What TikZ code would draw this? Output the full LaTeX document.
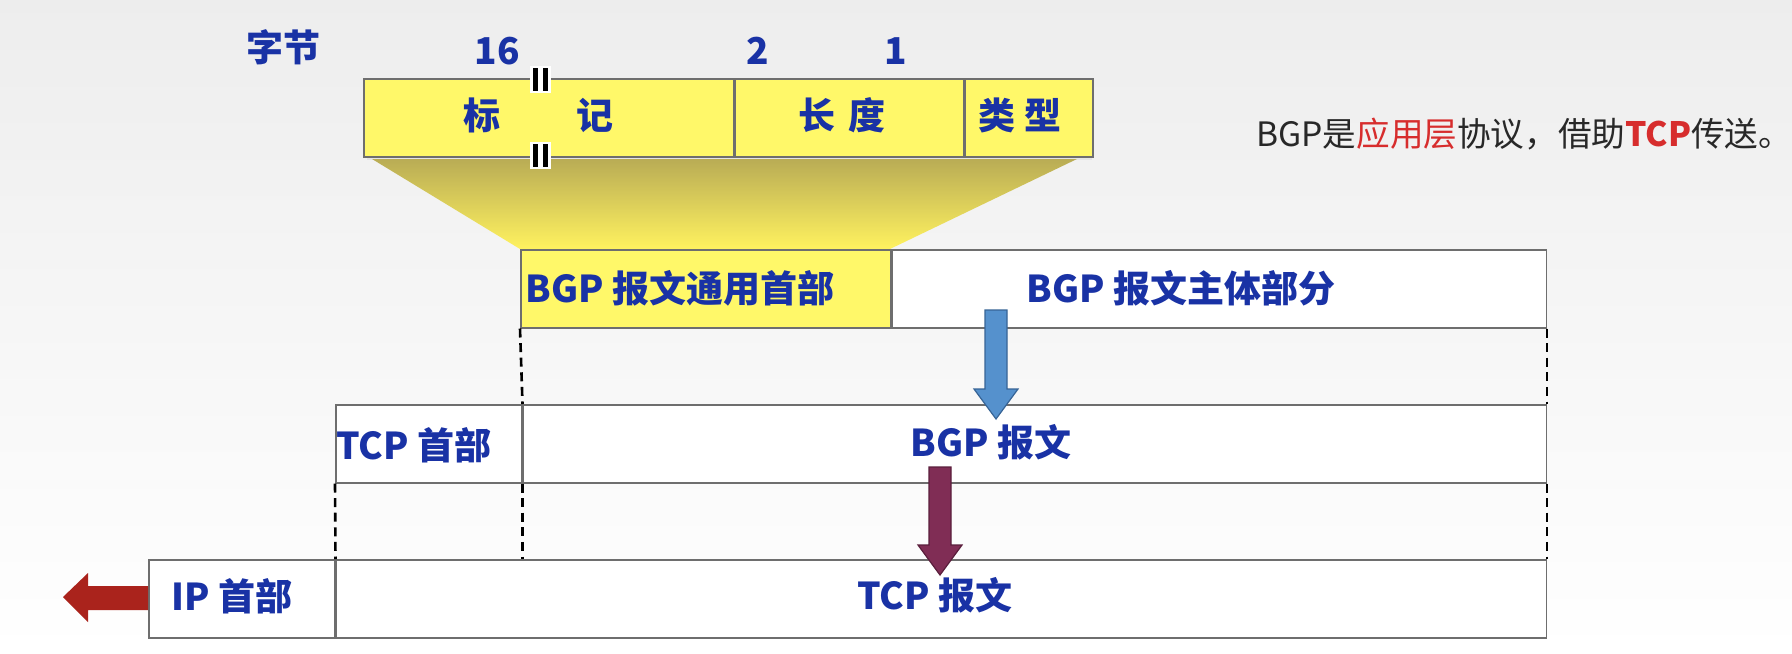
\documentclass[tikz,border=0pt]{standalone}
\usepackage{fontspec}
\setmainfont{Noto Sans CJK SC}
\usetikzlibrary{positioning}

\definecolor{msgblue}{RGB}{25,50,165}
\definecolor{hdryellow}{RGB}{255,248,105}
\definecolor{fieldgray}{RGB}{110,110,110}
\definecolor{funneltop}{RGB}{185,172,85}
\definecolor{funnelbot}{RGB}{255,242,95}
\definecolor{downblue}{RGB}{85,145,205}
\definecolor{downblueline}{RGB}{55,100,150}
\definecolor{downpurple}{RGB}{128,45,85}
\definecolor{downpurpleline}{RGB}{90,30,60}
\definecolor{outred}{RGB}{170,35,28}
\definecolor{notegray}{RGB}{40,40,40}
\definecolor{notered}{RGB}{215,45,45}

\tikzset{
  field/.style={draw=fieldgray, line width=0.75pt, inner sep=0pt, minimum height=39pt},
  lbl/.style={text=msgblue, inner sep=0pt, font=\fontsize{18.5}{22}\selectfont\bfseries},
  guide/.style={dash pattern=on 4.5pt off 2.8pt, line width=1.3pt},
}

\begin{document}
\begin{tikzpicture}[x=0.5pt,y=-0.5pt]

 % page
 \useasboundingbox (0,0) rectangle (1792,653);
 \shade[top color=black!7, bottom color=white] (0,0) rectangle (1792,653);

 % header fields
 \fill[black!10] (367,82) rectangle (1092,160);
 \node[field, fill=hdryellow, anchor=north west, minimum width=185pt] (mark) at (363,78) {};
 \node[field, fill=hdryellow, minimum width=114pt, right=0pt of mark] (len) {};
 \node[field, fill=hdryellow, minimum width=64pt, right=0pt of len] (type) {};

 % funnel
 \shade[top color=funneltop, bottom color=funnelbot] (372,159) -- (1077,159) -- (890,249) -- (520,249) -- cycle;

 % BGP message
 \node[field, fill=hdryellow, anchor=north west, minimum width=185pt] (gen) at (520,249) {};
 \node[field, fill=white, minimum width=327pt, right=0pt of gen] (body) {};

 % TCP segment
 \node[field, fill=white, anchor=north west, minimum width=93pt] (tcph) at (335,404) {};
 \node[field, fill=white, minimum width=511.5pt, right=0pt of tcph] (bgpmsg) {};

 % IP datagram
 \node[field, fill=white, anchor=north west, minimum width=93pt] (iph) at (148,559) {};
 \node[field, fill=white, minimum width=605pt, right=0pt of iph] (tcpmsg) {};

 % guides
 \draw[guide] (gen.south west) -- (bgpmsg.north west);
 \draw[guide] (body.south east) -- (bgpmsg.north east);
 \draw[guide] (tcph.south west) -- (iph.north east);
 \draw[guide] (bgpmsg.south west) -- (bgpmsg.south west |- tcpmsg.north);
 \draw[guide] (bgpmsg.south east) -- (tcpmsg.north east);

 % arrows
 \filldraw[fill=downblue, draw=downblueline, line width=0.6pt]
   (985,310) -- (1007,310) -- (1007,389) -- (1018,389) -- (996,419) -- (974,389) -- (985,389) -- cycle;
 \filldraw[fill=downpurple, draw=downpurpleline, line width=0.6pt]
   (929,467) -- (951,467) -- (951,545) -- (962,545) -- (940,575) -- (918,545) -- (929,545) -- cycle;
 \fill[outred] (148,586) -- (88,586) -- (88,573) -- (63,597) -- (88,622) -- (88,610) -- (148,610) -- cycle;

 % break marks
 \foreach \y in {68,144} {
   \fill[white] (530,\y-2) rectangle (551,\y+25);
   \fill (533,\y) rectangle (538,\y+23);
   \fill (543,\y) rectangle (548,\y+23);
 }

 % labels
 \node[lbl] (bytes) at (283,47) {字节};
 \node[lbl] (n16) at (497,51) {16};
 \node[lbl] (n2) at (758,51) {2};
 \node[lbl] (n1) at (896,51) {1};
 \node[lbl] (tmark1) at (482,115) {标};
 \node[lbl] (tmark2) at (595,115) {记};
 \node[lbl] (tlen) at (842,115) {长\hspace{0.35em}度};
 \node[lbl] (ttype) at (1020,115) {类\hspace{0.25em}型};
 \node[lbl, anchor=west] (tgen) at (525,288) {BGP 报文通用首部};
 \node[lbl] (tbody) at (1181,288) {BGP 报文主体部分};
 \node[lbl, anchor=west] (ttcph) at (336,445) {TCP 首部};
 \node[lbl] (tbgpmsg) at (991,442) {BGP 报文};
 \node[lbl] (tiph) at (232,596) {IP 首部};
 \node[lbl] (ttcpmsg) at (935,595) {TCP 报文};

 % note
 \node[font=\fontsize{16.8}{20}\selectfont, text=notegray, anchor=west, inner sep=0pt] (note) at (1256,134)
   {BGP是\textcolor{notered}{应用层}协议，借助\textcolor{notered}{\bfseries TCP}传送。};
\end{tikzpicture}
\end{document}
